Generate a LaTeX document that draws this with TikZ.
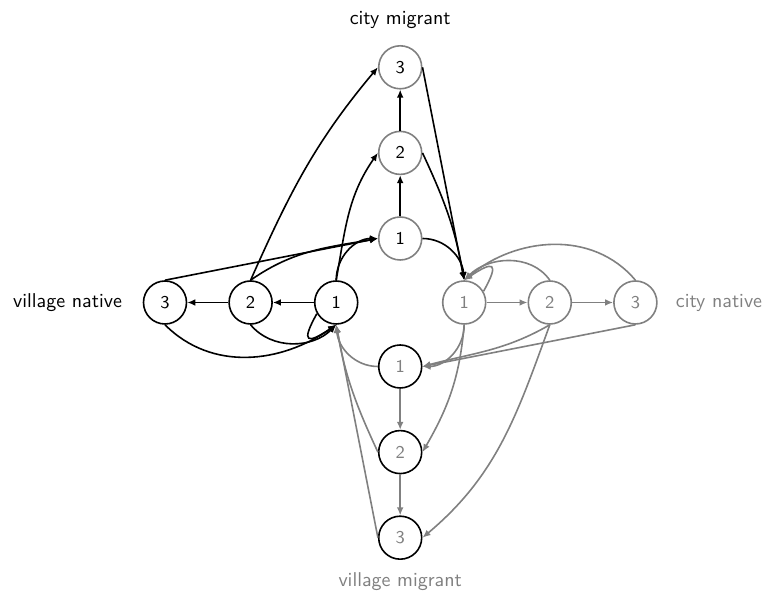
\documentclass[tikz,border=0pt]{standalone}
\usetikzlibrary{arrows.meta}
\begin{document}
\begin{tikzpicture}[x=0.5pt,y=-0.5pt,font=\sffamily,
  st/.style={circle,minimum size=21.5pt,inner sep=0pt,line width=0.8pt,font=\sffamily\small},
  vnst/.style={st,draw=black,text=black},
  cmst/.style={st,draw=gray,text=black},
  cnst/.style={st,draw=gray,text=gray},
  vmst/.style={st,draw=black,text=gray},
  lab/.style={inner sep=0pt,font=\sffamily},
  be/.style={-{Latex[length=4pt,width=3.4pt]},line width=0.8pt,draw=black},
  ge/.style={-{Latex[length=4pt,width=3.4pt]},line width=0.8pt,draw=gray}]
\useasboundingbox (0,0) rectangle (768,597);
% nodes
\node[vnst] (vn1) at (336.2,302.5) {1};
\node[vnst] (vn2) at (250.6,302.5) {2};
\node[vnst] (vn3) at (165.0,302.5) {3};
\node[cnst] (cn1) at (464.2,302.5) {1};
\node[cnst] (cn2) at (549.8,302.5) {2};
\node[cnst] (cn3) at (635.4,302.5) {3};
\node[cmst] (cm1) at (400.2,238.5) {1};
\node[cmst] (cm2) at (400.2,152.9) {2};
\node[cmst] (cm3) at (400.2,67.3) {3};
\node[vmst] (vm1) at (400.2,366.5) {1};
\node[vmst] (vm2) at (400.2,452.1) {2};
\node[vmst] (vm3) at (400.2,537.7) {3};
% labels
\node[lab,text=black] (lvn) at (67.5,303) {village native};
\node[lab,text=gray] (lcn) at (719,303) {city native};
\node[lab,text=black] (lcm) at (400.2,20) {city migrant};
\node[lab,text=gray] (lvm) at (400.2,582) {village migrant};
% black edges: village native
\draw[be] (vn1.west) -- (vn2.east);
\draw[be] (vn2.west) -- (vn3.east);
\draw[be] (vn1.north) to[out=90,in=180] (cm1.west);
\draw[be] (vn1.north) to[out=80,in=235] (cm2.west);
\draw[be] (vn2.north) to[out=35,in=190] (cm1.west);
\draw[be] (vn2.north) to[out=66,in=230] (cm3.west);
\draw[be] (vn3.north) -- (cm1.west);
\draw[be] (vn2.south) to[out=-50,in=225] (vn1.south);
\draw[be] (vn3.south) to[out=-45,in=215] (vn1.south);
\draw[be] (vn1.210) .. controls (300.1,343.6) and (307.5,344.1) .. (vn1.south);
% black edges: city migrant
\draw[be] (cm1.north) -- (cm2.south);
\draw[be] (cm2.north) -- (cm3.south);
\draw[be] (cm1.east) to[out=0,in=95] (cn1.north);
\draw[be] (cm2.east) to[out=-65,in=100] (cn1.north);
\draw[be] (cm3.east) -- (cn1.north);
% gray edges: city native
\draw[ge] (cn1.east) -- (cn2.west);
\draw[ge] (cn2.east) -- (cn3.west);
\draw[ge] (cn1.30) .. controls (500.3,261.4) and (492.9,260.9) .. (cn1.north);
\draw[ge] (cn2.north) to[out=125,in=45] (cn1.north);
\draw[ge] (cn3.north) to[out=130,in=40] (cn1.north);
\draw[ge] (cn1.south) to[out=-90,in=0] (vm1.east);
\draw[ge] (cn2.south) to[out=210,in=15] (vm1.east);
\draw[ge] (cn3.south) -- (vm1.east);
\draw[ge] (cn1.south) to[out=-95,in=60] (vm2.east);
\draw[ge] (cn2.south) to[out=-110,in=40] (vm3.east);
% gray edges: village migrant
\draw[ge] (vm1.south) -- (vm2.north);
\draw[ge] (vm2.south) -- (vm3.north);
\draw[ge] (vm1.west) to[out=180,in=-85] (vn1.south);
\draw[ge] (vm2.west) to[out=115,in=-80] (vn1.south);
\draw[ge] (vm3.west) -- (vn1.south);
\end{tikzpicture}
\end{document}
